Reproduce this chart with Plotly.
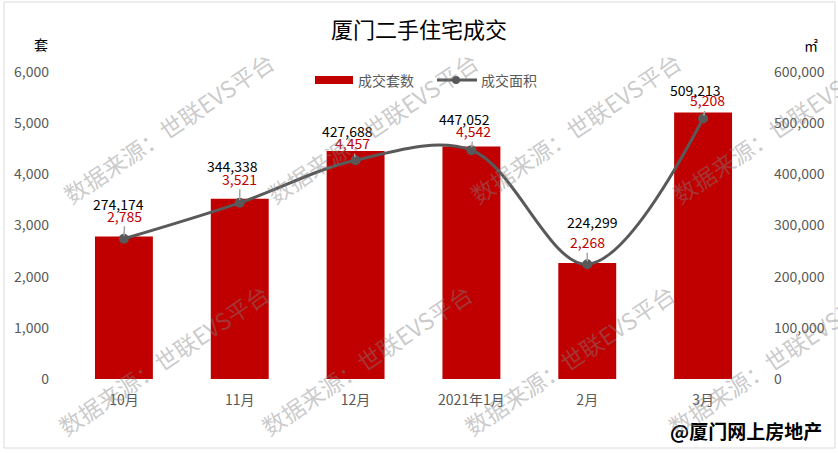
import plotly.graph_objects as go

# ---- data ----
categories = ["10月", "11月", "12月", "2021年1月", "2月", "3月"]
units_sold = [2785, 3521, 4457, 4542, 2268, 5208]          # 成交套数 (left axis)
area_sold = [274174, 344338, 427688, 447052, 224299, 509213]  # 成交面积 (right axis)
left_ticks = [0, 1000, 2000, 3000, 4000, 5000, 6000]
right_ticks = [0, 100000, 200000, 300000, 400000, 500000, 600000]

# ---- label placement (pixel offsets from the line point) ----
area_lbl_off = [(-5, -35), (-7, -37), (-8, -29), (-7, -31), (5, -42), (-8, -28)]
unit_lbl_off = [(1, -23), (0, -24), (-3, -17), (2, -19), (0, -22), (4, -18)]

W, H = 838, 453
L, R, T, B = 66, 77, 72, 74
PW, PH = W - L - R, H - T - B


def px(x):
    return (x - L) / PW


def py(y):
    return (H - B - y) / PH


FONT = "Microsoft YaHei, Noto Sans CJK SC, sans-serif"
RED = "#C00000"
GRAY = "#595959"

fig = go.Figure()
fig.add_trace(go.Bar(
    x=categories, y=units_sold, name="成交套数",
    marker=dict(color=RED, line=dict(width=0)), width=0.5, yaxis="y",
    showlegend=False,
))
fig.add_trace(go.Scatter(
    x=categories, y=area_sold, name="成交面积", yaxis="y2",
    mode="lines+markers",
    line=dict(color=GRAY, width=3, shape="spline", smoothing=1.0),
    marker=dict(color=GRAY, size=10),
    showlegend=False,
))

ann = []
# data labels
for i, c in enumerate(categories):
    ax, ay = unit_lbl_off[i]
    ann.append(dict(
        x=c, y=area_sold[i], xref="x", yref="y2",
        text=f"{units_sold[i]:,}", showarrow=True, arrowhead=0,
        arrowwidth=1.5, arrowcolor="#A6A6A6", ax=ax, ay=ay,
        axref="pixel", ayref="pixel", standoff=3, borderpad=0,
        font=dict(family=FONT, size=14, color=RED),
    ))
    ax, ay = area_lbl_off[i]
    ann.append(dict(
        x=c, y=area_sold[i], xref="x", yref="y2",
        text=f"{area_sold[i]:,}", showarrow=False,
        xanchor="center", yanchor="middle",
        xshift=ax, yshift=-ay, borderpad=0,
        font=dict(family=FONT, size=14, color="#000000"),
    ))


def note(x, y, text, size=14, color="#000000", xanchor="center", **kw):
    return dict(x=px(x), y=py(y), xref="paper", yref="paper", text=text,
                xanchor=xanchor, yanchor="middle", showarrow=False,
                font=dict(family=FONT, size=size, color=color), **kw)


# axis unit titles
ann.append(note(41, 44, "套"))
ann.append(note(811, 45, "㎡"))

# legend (custom)
ann.append(note(356, 80, "成交套数", color=GRAY, xanchor="left"))
ann.append(note(479, 80, "成交面积", color=GRAY, xanchor="left"))

# footer
ann.append(note(824, 430, "<b>@厦门网上房地产</b>", size=19, xanchor="right"))

# watermarks
wm_centers = [(168, 128), (372, 128), (575, 128), (777, 128),
              (163, 360), (366, 360), (569, 360), (773, 360)]
for cx, cy in wm_centers:
    ann.append(note(cx, cy, "数据来源：世联EVS平台", size=23,
                    color="rgba(128,128,128,0.42)", textangle=-34))

shapes = [
    # outer border
    dict(type="rect", xref="paper", yref="paper", x0=px(4), x1=px(835),
         y0=py(448), y1=py(2), line=dict(color="#D9D9D9", width=1), layer="below"),
    # legend symbols
    dict(type="rect", xref="paper", yref="paper", x0=px(315), x1=px(353),
         y0=py(84), y1=py(76), fillcolor=RED, line=dict(width=0)),
    dict(type="line", xref="paper", yref="paper", x0=px(437), x1=px(477),
         y0=py(80), y1=py(80), line=dict(color=GRAY, width=3)),
    dict(type="circle", xref="paper", yref="paper", x0=px(452), x1=px(460),
         y0=py(84), y1=py(76), fillcolor=GRAY, line=dict(width=0)),
]

fig.update_layout(
    width=W, height=H,
    margin=dict(l=L, r=R, t=T, b=B, pad=0),
    paper_bgcolor="white", plot_bgcolor="white",
    title=dict(text="厦门二手住宅成交", x=0.5, xanchor="center",
               y=1 - 30 / H, yanchor="middle",
               font=dict(family=FONT, size=22, color="#000000")),
    showlegend=False,
    bargap=0.5,
    xaxis=dict(
        type="category", range=[-0.5, 5.5], showgrid=False, showline=False,
        zeroline=False, ticks="", ticklabelstandoff=11,
        tickfont=dict(family=FONT, size=14, color=GRAY),
    ),
    yaxis=dict(
        range=[0, 6000], tickvals=left_ticks, tickformat=",", showgrid=False,
        showline=False, zeroline=False, ticks="", ticklabelstandoff=16,
        tickfont=dict(family=FONT, size=14, color=GRAY),
    ),
    yaxis2=dict(
        range=[0, 600000], tickvals=right_ticks, tickformat=",", overlaying="y",
        side="right", showgrid=False, showline=False, zeroline=False, ticks="",
        ticklabelstandoff=12,
        tickfont=dict(family=FONT, size=14, color=GRAY),
    ),
    annotations=ann,
    shapes=shapes,
)

fig.write_html("out.html")
